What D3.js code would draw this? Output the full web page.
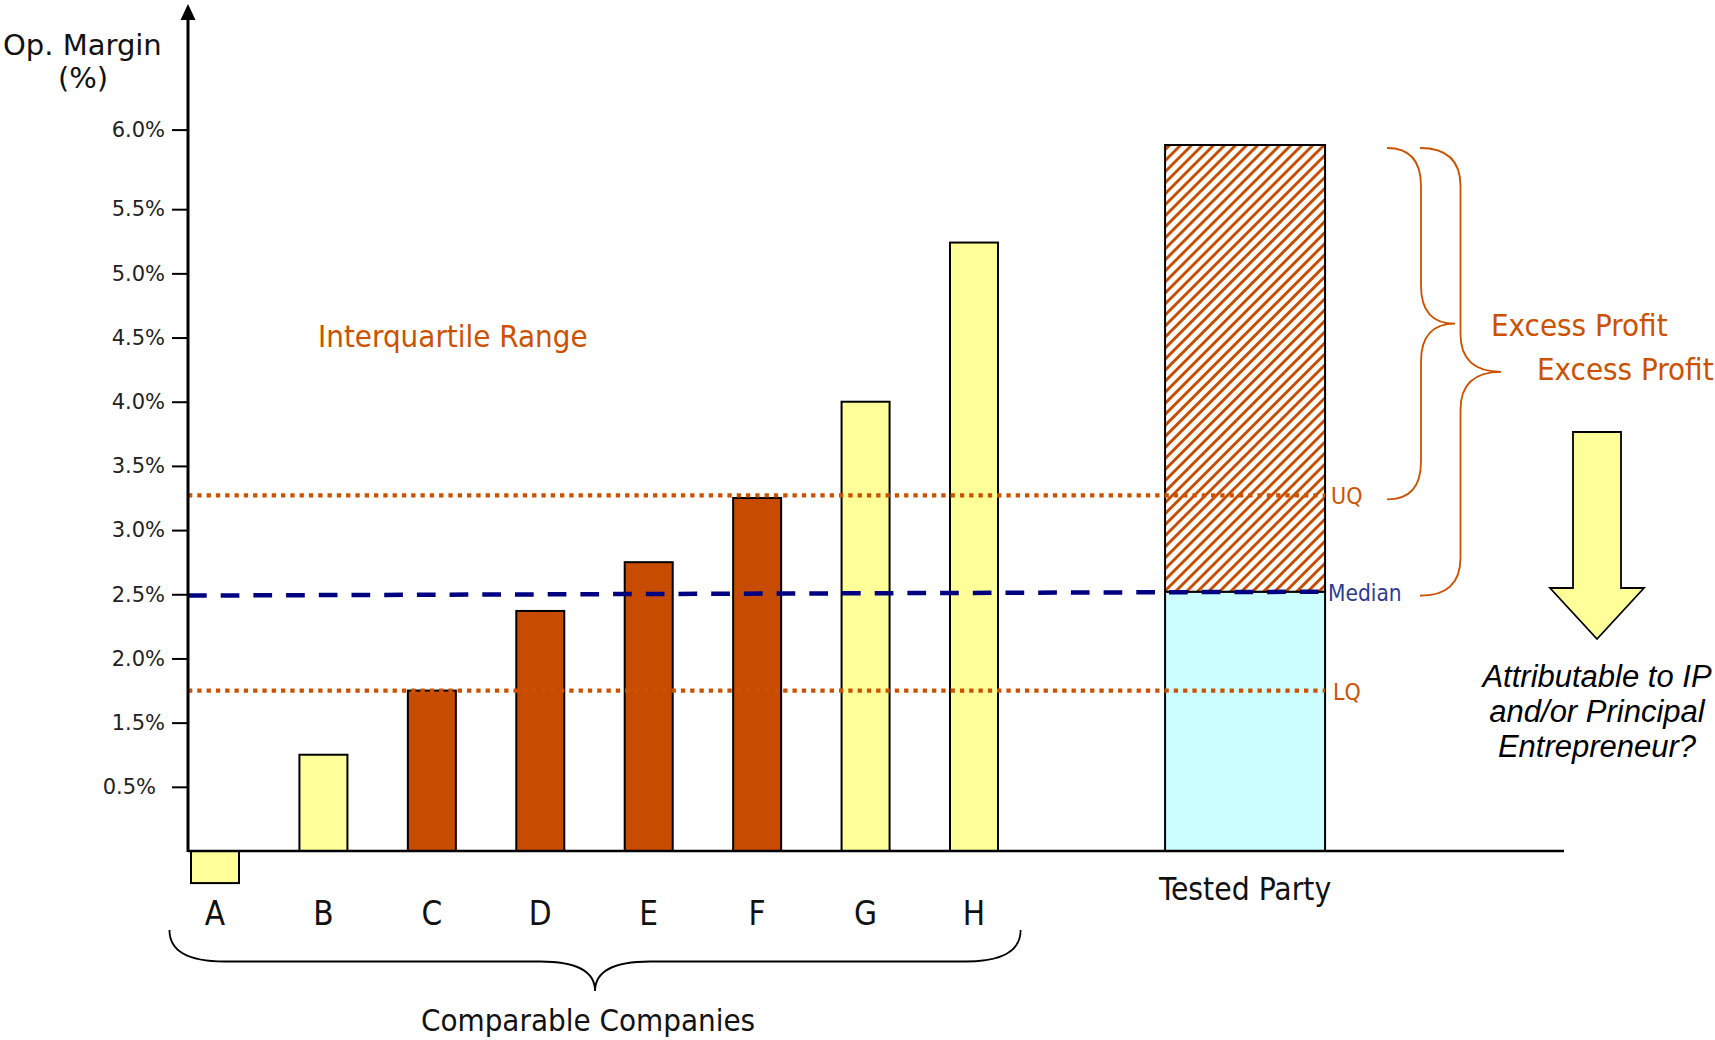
<!DOCTYPE html>
<html>
<head>
<meta charset="utf-8">
<script src="https://cdn.jsdelivr.net/npm/d3@7"></script>
<style>
  body { margin: 0; background: #fff; }
  svg { display: block; }
  .narrow { font-family: "Liberation Sans Narrow", "DejaVu Sans Condensed", "Liberation Sans", sans-serif; }
</style>
</head>
<body>
<div id="chart"></div>
<script>
// comparable companies and their operating margins (%)
const companies = ["A", "B", "C", "D", "E", "F", "G", "H"];
const margins = [0.25, 1.25, 1.75, 2.37, 2.75, 3.25, 4.0, 5.24];

// tested party
const testedLabel = "Tested Party";
const testedMargin = 6.0;

// interquartile range
const lowerQuartile = 1.75;
const upperQuartile = 3.27;
const medianLine = [2.49, 2.52];   // drawn slightly tilted in the original

// y axis ticks (labels as printed on the chart)
const tickValues = [1.0, 1.5, 2.0, 2.5, 3.0, 3.5, 4.0, 4.5, 5.0, 5.5, 6.12];
const tickLabels = ["0.5%", "1.5%", "2.0%", "2.5%", "3.0%", "3.5%", "4.0%", "4.5%", "5.0%", "5.5%", "6.0%"];

const width = 1715, height = 1040;
const orange = "#C84C00", orangeText = "#CC5200", yellow = "#FFFF99";

const svg = d3.select("#chart").append("svg")
    .attr("width", width)
    .attr("height", height);

// hatch for the excess profit part
const defs = svg.append("defs");
const hatch = defs.append("pattern")
    .attr("id", "hatch")
    .attr("patternUnits", "userSpaceOnUse")
    .attr("width", 7.8)
    .attr("height", 7.8)
    .attr("patternTransform", "rotate(45)");
hatch.append("rect").attr("width", 7.8).attr("height", 7.8).attr("fill", "#fff");
hatch.append("rect").attr("width", 2.9).attr("height", 7.8).attr("fill", orange);

// scales
const y = d3.scaleLinear()
    .domain([0.5, 6.0])
    .range([851, 145]);

const x = d3.scalePoint()
    .domain(companies)
    .range([215, 974]);

const barW = 48;
const testedX = x("H") + 2.5 * x.step();
const testedW = 160;
const axisLeft = 188, axisRight = 1564;

// bars
svg.append("g").selectAll("rect")
    .data(companies.map((c, i) => ({ name: c, value: margins[i] })))
    .join("rect")
    .attr("x", d => x(d.name) - barW / 2)
    .attr("y", d => Math.min(y(d.value), y(0.5)))
    .attr("width", barW)
    .attr("height", d => Math.abs(y(0.5) - y(d.value)))
    .attr("fill", d => (d.value >= lowerQuartile && d.value <= upperQuartile) ? orange : yellow)
    .attr("stroke", "#000")
    .attr("stroke-width", 2);

// tested party: arm's length part + excess profit part
const tp = svg.append("g");
tp.append("rect")
    .attr("x", testedX - testedW / 2)
    .attr("y", y(medianLine[1]))
    .attr("width", testedW)
    .attr("height", y(0.5) - y(medianLine[1]))
    .attr("fill", "#CCFFFF")
    .attr("stroke", "#000")
    .attr("stroke-width", 2);
tp.append("rect")
    .attr("x", testedX - testedW / 2)
    .attr("y", y(testedMargin))
    .attr("width", testedW)
    .attr("height", y(medianLine[1]) - y(testedMargin))
    .attr("fill", "url(#hatch)")
    .attr("stroke", "#000")
    .attr("stroke-width", 2);

// x axis line
svg.append("line")
    .attr("x1", axisLeft).attr("x2", axisRight)
    .attr("y1", y(0.5)).attr("y2", y(0.5))
    .attr("stroke", "#000")
    .attr("stroke-width", 2.5);

// quartile and median lines
const lineEnd = testedX + testedW / 2;
svg.append("g").selectAll("line")
    .data([lowerQuartile, upperQuartile])
    .join("line")
    .attr("x1", axisLeft).attr("x2", lineEnd)
    .attr("y1", d => y(d)).attr("y2", d => y(d))
    .attr("stroke", "#CC5200")
    .attr("stroke-width", 4.3)
    .attr("stroke-dasharray", "4.3 5");

svg.append("line")
    .attr("x1", axisLeft).attr("x2", lineEnd)
    .attr("y1", y(medianLine[0])).attr("y2", y(medianLine[1]))
    .attr("stroke", "#000080")
    .attr("stroke-width", 4.5)
    .attr("stroke-dasharray", "18.7 14");

// line labels
svg.append("text").attr("class", "narrow")
    .attr("x", lineEnd + 6).attr("y", y(upperQuartile) + 9)
    .attr("font-size", 23).attr("fill", orangeText).text("UQ");
svg.append("text").attr("class", "narrow")
    .attr("x", lineEnd + 8).attr("y", y(lowerQuartile) + 9)
    .attr("font-size", 23).attr("fill", orangeText).text("LQ");
svg.append("text").attr("class", "narrow")
    .attr("x", lineEnd + 3).attr("y", y(medianLine[1]) + 9)
    .attr("font-size", 22.5).attr("fill", "#2E3A94").text("Median");

// y axis
const yAxis = d3.axisLeft(y)
    .tickValues(tickValues)
    .tickFormat((d, i) => tickLabels[i])
    .tickSize(16)
    .tickPadding(7);

const yAxisG = svg.append("g")
    .attr("transform", `translate(${axisLeft},0)`)
    .call(yAxis);
yAxisG.select(".domain").remove();
yAxisG.selectAll(".tick line").attr("stroke", "#000").attr("stroke-width", 2);
yAxisG.selectAll(".tick text")
    .attr("font-family", "DejaVu Sans, sans-serif")
    .attr("font-size", 21)
    .attr("fill", "#222");
yAxisG.selectAll(".tick text").filter((d, i) => i === 0).attr("dx", -9);

svg.append("line")
    .attr("x1", axisLeft).attr("x2", axisLeft)
    .attr("y1", y(0.5) + 1).attr("y2", 16)
    .attr("stroke", "#000")
    .attr("stroke-width", 3);
svg.append("path")
    .attr("d", `M${axisLeft},4 L${axisLeft - 7.5},20 L${axisLeft + 7.5},20 Z`)
    .attr("fill", "#000");

svg.append("text")
    .attr("x", 3).attr("y", 55)
    .attr("font-family", "DejaVu Sans, sans-serif")
    .attr("font-size", 29)
    .attr("fill", "#111")
    .text("Op. Margin");
svg.append("text")
    .attr("x", 83).attr("y", 88)
    .attr("text-anchor", "middle")
    .attr("font-family", "DejaVu Sans, sans-serif")
    .attr("font-size", 29)
    .attr("fill", "#111")
    .text("(%)");

// category labels
svg.append("g").selectAll("text")
    .data(companies)
    .join("text")
    .attr("class", "narrow")
    .attr("x", d => x(d))
    .attr("y", 925)
    .attr("text-anchor", "middle")
    .attr("font-size", 33)
    .attr("fill", "#111")
    .text(d => d);

svg.append("text").attr("class", "narrow")
    .attr("x", testedX).attr("y", 900)
    .attr("text-anchor", "middle")
    .attr("font-size", 31.5)
    .attr("fill", "#111")
    .text(testedLabel);

// brace under the comparables
const bl = x("A") - 0.42 * x.step(), br = x("H") + 0.43 * x.step();
const bm = (bl + br) / 2, bt = 930, bh = 961.5, btip = 991, rx = 55;
svg.append("path")
    .attr("d", `M${bl},${bt} Q${bl},${bh} ${bl + rx},${bh} L${bm - rx},${bh} Q${bm},${bh} ${bm},${btip}
                Q${bm},${bh} ${bm + rx},${bh} L${br - rx},${bh} Q${br},${bh} ${br},${bt}`)
    .attr("fill", "none")
    .attr("stroke", "#000")
    .attr("stroke-width", 1.8);

svg.append("text").attr("class", "narrow")
    .attr("x", bm - 7).attr("y", 1031)
    .attr("text-anchor", "middle")
    .attr("font-size", 31)
    .attr("fill", "#111")
    .text("Comparable Companies");

svg.append("text").attr("class", "narrow")
    .attr("x", 318).attr("y", 347)
    .attr("font-size", 31)
    .attr("fill", orangeText)
    .text("Interquartile Range");

// right-pointing braces for excess profit
function rightBrace(x0, depth, yTop, yBot, r) {
    const x1 = x0 + depth / 2, x2 = x0 + depth, ym = (yTop + yBot) / 2;
    return `M${x0},${yTop} Q${x1},${yTop} ${x1},${yTop + r} L${x1},${ym - r} Q${x1},${ym} ${x2},${ym}
            Q${x1},${ym} ${x1},${ym + r} L${x1},${yBot - r} Q${x1},${yBot} ${x0},${yBot}`;
}

const braces = [
    { x0: 1387, depth: 68, bottom: upperQuartile },
    { x0: 1420, depth: 81, bottom: medianLine[1] }
];
svg.append("g").selectAll("path")
    .data(braces)
    .join("path")
    .attr("d", d => rightBrace(d.x0, d.depth, y(testedMargin) + 3, y(d.bottom) + 4, 38))
    .attr("fill", "none")
    .attr("stroke", orangeText)
    .attr("stroke-width", 1.8);

svg.append("g").selectAll("text")
    .data(braces)
    .join("text")
    .attr("class", "narrow")
    .attr("x", d => d.x0 + d.depth + 36)
    .attr("y", (d, i) => (y(testedMargin) + y(d.bottom)) / 2 + 16 - i * 4)
    .attr("font-size", 31)
    .attr("fill", orangeText)
    .text("Excess Profit");

// down arrow
svg.append("path")
    .attr("d", "M1573,432 L1621,432 L1621,588 L1644,588 L1597,639 L1550,588 L1573,588 Z")
    .attr("fill", yellow)
    .attr("stroke", "#000")
    .attr("stroke-width", 1.8);

const question = ["Attributable to IP", "and/or Principal", "Entrepreneur?"];
svg.append("g").selectAll("text")
    .data(question)
    .join("text")
    .attr("x", 1597)
    .attr("y", (d, i) => 687 + i * 35)
    .attr("text-anchor", "middle")
    .attr("font-family", "Liberation Sans, Arial, sans-serif")
    .attr("font-style", "italic")
    .attr("font-size", 31)
    .attr("fill", "#000")
    .text(d => d);
</script>
</body>
</html>
